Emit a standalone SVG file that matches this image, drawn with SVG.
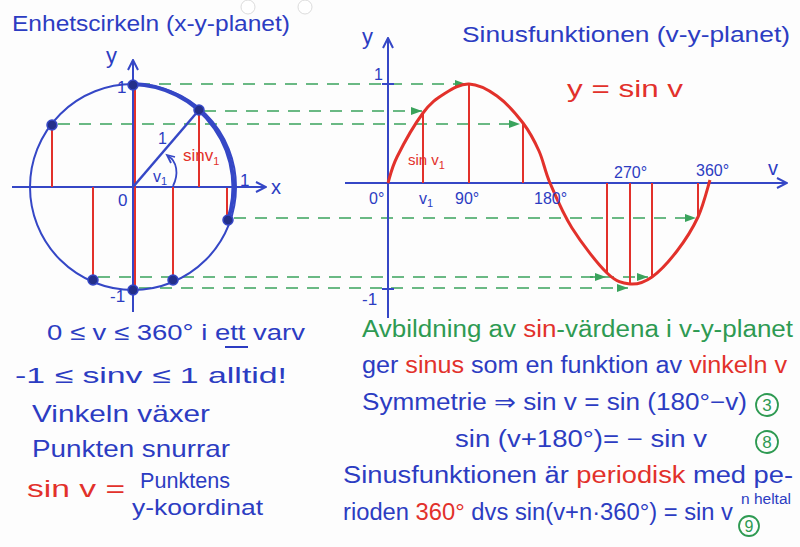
<svg xmlns="http://www.w3.org/2000/svg" width="800" height="547" viewBox="0 0 800 547">
<defs>
<style>
text{font-family:"Liberation Sans","DejaVu Sans",sans-serif;}
.b{fill:#2c3cc2}
.r{fill:#e2312b}
.g{fill:#2e9a52}
.ax{stroke:#3547c6;stroke-width:2;fill:none}
.red{stroke:#e2312b;stroke-width:2;fill:none}
.gd{stroke:#3aa35c;stroke-width:1.6;stroke-dasharray:12 9;fill:none}
.dot{fill:#232f8a;stroke:#3547c6;stroke-width:1.5}
.cn{fill:none;stroke:#2e9a52;stroke-width:1.8}
</style>
<marker id="ah" viewBox="0 0 12 12" refX="11" refY="6" markerWidth="12" markerHeight="12" markerUnits="userSpaceOnUse" orient="auto">
<path d="M1,1 L11,6 L1,11" fill="none" stroke="#3547c6" stroke-width="2"/>
</marker>
<marker id="gah" viewBox="0 0 12 10" refX="11" refY="5" markerWidth="12" markerHeight="10" markerUnits="userSpaceOnUse" orient="auto">
<path d="M0,1 L11,5 L0,9 Z" fill="#3aa35c"/>
</marker>
</defs>
<rect width="800" height="547" fill="#fdfdfd"/>
<circle cx="248" cy="7" r="7" fill="#fff" stroke="#dcdcdc"/>
<circle cx="305" cy="7" r="7" fill="#fff" stroke="#dcdcdc"/>

<g id="titles">
<text class="b" x="12" y="31" font-size="22" textLength="278" lengthAdjust="spacingAndGlyphs">Enhetscirkeln (x-y-planet)</text>
<text class="b" x="462" y="42" font-size="22" textLength="328" lengthAdjust="spacingAndGlyphs">Sinusfunktionen (v-y-planet)</text>
<text class="r" x="567" y="97" font-size="24" textLength="116" lengthAdjust="spacingAndGlyphs">y = sin v</text>
</g>

<g id="connectors">
<line class="gd" x1="138" y1="84" x2="466" y2="84" marker-end="url(#gah)"/>
<line class="gd" x1="204" y1="111" x2="422" y2="111" marker-end="url(#gah)"/>
<line class="gd" x1="58" y1="124" x2="520" y2="124" marker-end="url(#gah)"/>
<line class="gd" x1="234" y1="218" x2="696" y2="218" marker-end="url(#gah)"/>
<line class="gd" x1="98" y1="277" x2="648" y2="277" marker-end="url(#gah)"/>
<line class="gd" x1="590" y1="277" x2="606" y2="277" stroke-dasharray="none" marker-end="url(#gah)"/>
<line class="gd" x1="139" y1="288" x2="628" y2="288" marker-end="url(#gah)"/>
</g>

<g id="unit-circle">
<line class="ax" x1="12" y1="187" x2="266" y2="187" marker-end="url(#ah)"/>
<line class="ax" x1="133" y1="312" x2="133" y2="60" marker-end="url(#ah)"/>
<circle cx="133" cy="187" r="103" fill="none" stroke="#3547c6" stroke-width="2"/>
<path d="M133,84 A103,103 0 0 1 228,220" fill="none" stroke="#3547c6" stroke-width="4"/>
<line class="red" x1="52" y1="125" x2="52" y2="187"/>
<line class="red" x1="135" y1="84" x2="135" y2="290"/>
<line class="red" x1="199" y1="110" x2="199" y2="187"/>
<line class="red" x1="93" y1="187" x2="93" y2="280"/>
<line class="red" x1="173" y1="187" x2="173" y2="280"/>
<line class="red" x1="227" y1="188" x2="227" y2="218"/>
<line x1="133" y1="187" x2="199" y2="110" stroke="#3547c6" stroke-width="2.5"/>
<path d="M173,186 C179,174 177,161 168,156" fill="none" stroke="#3547c6" stroke-width="1.8"/>
<path d="M175,157 L167,155 L171,163" fill="none" stroke="#3547c6" stroke-width="1.8"/>
<circle class="dot" cx="133" cy="85" r="5"/>
<circle class="dot" cx="199" cy="110" r="5"/>
<circle class="dot" cx="52" cy="125" r="5"/>
<circle class="dot" cx="228" cy="220" r="5"/>
<circle class="dot" cx="93" cy="280" r="5"/>
<circle class="dot" cx="173" cy="280" r="5"/>
<circle class="dot" cx="133" cy="290" r="5"/>
<text class="b" x="106" y="63" font-size="22">y</text>
<text class="b" x="271" y="194" font-size="20">x</text>
<text class="b" x="117" y="93" font-size="17">1</text>
<text class="b" x="240" y="186" font-size="17">1</text>
<text class="b" x="118" y="206" font-size="17">0</text>
<text class="b" x="110" y="302" font-size="17">-1</text>
<text class="b" x="158" y="144" font-size="16">1</text>
<text class="b" x="153" y="182" font-size="16">v<tspan font-size="11" dy="3">1</tspan></text>
<text class="r" x="183" y="161" font-size="17">sinv<tspan font-size="11" dy="4">1</tspan></text>
</g>

<g id="sine-graph">
<line class="ax" x1="345" y1="183" x2="787" y2="183" marker-end="url(#ah)"/>
<line class="ax" x1="388" y1="318" x2="388" y2="38" marker-end="url(#ah)"/>
<line class="ax" x1="382" y1="84" x2="394" y2="84"/>
<line class="ax" x1="382" y1="289" x2="394" y2="289"/>
<line class="red" x1="423" y1="113" x2="423" y2="183"/>
<line class="red" x1="469" y1="84" x2="469" y2="183"/>
<line class="red" x1="523" y1="123" x2="523" y2="183"/>
<line class="red" x1="607" y1="183" x2="607" y2="273"/>
<line class="red" x1="630" y1="183" x2="630" y2="284"/>
<line class="red" x1="652" y1="183" x2="652" y2="277"/>
<line class="red" x1="698" y1="183" x2="698" y2="217"/>
<path d="M388,183 C389.5,178.7 391.2,168.7 397,157 C402.8,145.3 415.2,123.5 423,113 C430.8,102.5 436.3,98.8 444,94 C451.7,89.2 460.2,83.7 469,84 C477.8,84.3 488,89.5 497,96 C506,102.5 516,113.8 523,123 C530,132.2 534.5,141 539,151 C543.5,161 544.5,170.2 550,183 C555.5,195.8 562.5,213 572,228 C581.5,243 597.3,263.7 607,273 C616.7,282.3 622.5,283.3 630,284 C637.5,284.7 644.2,282.5 652,277 C659.8,271.5 669.3,261 677,251 C684.7,241 692.5,228.8 698,217 C703.5,205.2 708,186.2 710,180" fill="none" stroke="#e2312b" stroke-width="3"/>
<text class="b" x="362" y="44" font-size="22">y</text>
<text class="b" x="768" y="175" font-size="20">v</text>
<text class="b" x="374" y="80" font-size="16">1</text>
<text class="b" x="362" y="305" font-size="17">-1</text>
<text class="b" x="369" y="204" font-size="16">0°</text>
<text class="b" x="419" y="204" font-size="16">v<tspan font-size="11" dy="3">1</tspan></text>
<text class="b" x="455" y="204" font-size="16">90°</text>
<text class="b" x="534" y="204" font-size="16">180°</text>
<text class="b" x="614" y="178" font-size="16">270°</text>
<text class="b" x="696" y="176" font-size="16">360°</text>
<text class="r" x="408" y="165" font-size="15">sin v<tspan font-size="11" dy="4">1</tspan></text>
</g>

<g id="notes-left">
<text class="b" x="47" y="340" font-size="22" textLength="258" lengthAdjust="spacingAndGlyphs">0 ≤ v ≤ 360° i ett varv</text>
<line x1="225" y1="347" x2="248" y2="347" stroke="#2c3cc2" stroke-width="2"/>
<text class="b" x="15" y="383" font-size="22" textLength="272" lengthAdjust="spacingAndGlyphs">-1 ≤ sinv ≤ 1 alltid!</text>
<text class="b" x="32" y="422" font-size="24" textLength="178" lengthAdjust="spacingAndGlyphs">Vinkeln växer</text>
<text class="b" x="32" y="457" font-size="24" textLength="198" lengthAdjust="spacingAndGlyphs">Punkten snurrar</text>
<text class="r" x="27" y="497" font-size="24" textLength="98" lengthAdjust="spacingAndGlyphs">sin v =</text>
<text class="b" x="140" y="488" font-size="22" textLength="90" lengthAdjust="spacingAndGlyphs">Punktens</text>
<text class="b" x="132" y="515" font-size="22" textLength="131" lengthAdjust="spacingAndGlyphs">y-koordinat</text>
</g>

<g id="notes-right">
<text x="362" y="337" font-size="23" textLength="431" lengthAdjust="spacingAndGlyphs"><tspan class="g">Avbildning av </tspan><tspan class="r">sin</tspan><tspan class="g">-värdena i v-y-planet</tspan></text>
<text x="362" y="373" font-size="23" textLength="425" lengthAdjust="spacingAndGlyphs"><tspan class="b">ger </tspan><tspan class="r">sinus</tspan><tspan class="b"> som en funktion av </tspan><tspan class="r">vinkeln v</tspan></text>
<text class="b" x="362" y="410" font-size="23" textLength="385" lengthAdjust="spacingAndGlyphs">Symmetrie ⇒ sin v = sin (180°−v)</text>
<circle class="cn" cx="767" cy="405" r="11"/>
<text class="g" x="767" y="411" font-size="17" text-anchor="middle">3</text>
<text class="b" x="455" y="447" font-size="23" textLength="252" lengthAdjust="spacingAndGlyphs">sin (v+180°)= − sin v</text>
<circle class="cn" cx="767" cy="442" r="11"/>
<text class="g" x="767" y="448" font-size="17" text-anchor="middle">8</text>
<text x="343" y="483" font-size="23" textLength="450" lengthAdjust="spacingAndGlyphs"><tspan class="b">Sinusfunktionen är </tspan><tspan class="r">periodisk</tspan><tspan class="b"> med pe-</tspan></text>
<text x="343" y="520" font-size="23" textLength="390" lengthAdjust="spacingAndGlyphs"><tspan class="b">rioden </tspan><tspan class="r">360°</tspan><tspan class="b"> dvs  sin(v+n·360°) = sin v</tspan></text>
<text class="b" x="741" y="504" font-size="14" textLength="50" lengthAdjust="spacingAndGlyphs">n heltal</text>
<circle class="cn" cx="749" cy="526" r="10"/>
<text class="g" x="749" y="532" font-size="16" text-anchor="middle">9</text>
</g>
</svg>
